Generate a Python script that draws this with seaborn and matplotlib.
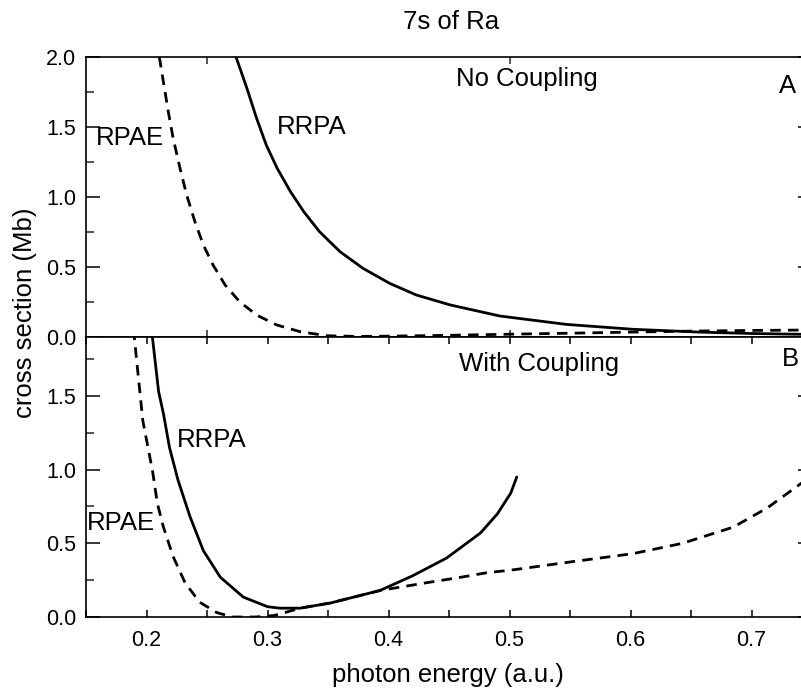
import numpy as np
import pandas as pd
import matplotlib
matplotlib.use("Agg")
import matplotlib.pyplot as plt
from matplotlib.ticker import MultipleLocator, FormatStrFormatter
import seaborn as sns

# ---------------- data ----------------
# Panel A: no coupling
a_rpae_x = [0.2106, 0.214, 0.218, 0.222, 0.2277, 0.2332, 0.240, 0.247, 0.255, 0.265,
            0.277, 0.291, 0.3076, 0.327, 0.349, 0.375, 0.40, 0.45, 0.50, 0.55,
            0.60, 0.65, 0.70, 0.75]
a_rpae_y = [2.0, 1.82, 1.61, 1.42, 1.205, 1.014, 0.824, 0.657, 0.514, 0.371,
            0.252, 0.157, 0.086, 0.038, 0.009, 0.004, 0.006, 0.012, 0.02, 0.027,
            0.035, 0.042, 0.047, 0.05]
a_rrpa_x = [0.274, 0.283, 0.291, 0.299, 0.308, 0.319, 0.330, 0.343, 0.360, 0.379,
            0.401, 0.423, 0.451, 0.492, 0.547, 0.602, 0.657, 0.70, 0.75]
a_rrpa_y = [2.0, 1.776, 1.562, 1.371, 1.205, 1.038, 0.895, 0.752, 0.609, 0.490,
            0.383, 0.30, 0.229, 0.15, 0.09, 0.055, 0.035, 0.025, 0.018]

# Panel B: with coupling
b_rpae_x = [0.189, 0.190, 0.197, 0.205, 0.209, 0.214, 0.222, 0.232, 0.244, 0.258,
            0.271, 0.29, 0.305, 0.31, 0.327, 0.352, 0.393, 0.415, 0.437, 0.46,
            0.481, 0.503, 0.547, 0.602, 0.643, 0.685, 0.713, 0.75]
b_rpae_y = [1.95, 1.89, 1.33, 0.99, 0.77, 0.61, 0.41, 0.23, 0.10, 0.03,
            0.0, 0.0, 0.01, 0.02, 0.06, 0.095, 0.18, 0.21, 0.24, 0.27,
            0.30, 0.32, 0.37, 0.43, 0.50, 0.61, 0.74, 0.96]
b_rrpa_x = [0.204, 0.205, 0.21, 0.214, 0.219, 0.226, 0.236, 0.247, 0.261, 0.280,
            0.30, 0.31, 0.327, 0.352, 0.393, 0.420, 0.448, 0.476, 0.490, 0.501, 0.506]
b_rrpa_y = [1.95, 1.89, 1.53, 1.38, 1.15, 0.93, 0.68, 0.45, 0.27, 0.135,
            0.07, 0.06, 0.06, 0.095, 0.18, 0.28, 0.40, 0.57, 0.70, 0.84, 0.95]

x_ticks_labels = [0.2, 0.3, 0.4, 0.5, 0.6, 0.7]

# ---------------- figure ----------------
sns.set_style("ticks")
plt.rcParams['font.family'] = ['Liberation Sans', 'DejaVu Sans']
plt.rcParams['axes.linewidth'] = 1.2
plt.rcParams['text.color'] = 'black'

W, H = 801, 693
fig = plt.figure(figsize=(W / 100, H / 100), dpi=100)
left = 86 / W
width = (812 - 86) / W
axA = fig.add_axes([left, 1 - 337 / H, width, (337 - 57) / H])
axB = fig.add_axes([left, 1 - 617 / H, width, (617 - 337) / H])

lw = 2.0
dash = (0, (3.8, 2.6))

sns.lineplot(x=a_rpae_x, y=a_rpae_y, ax=axA, color='black', lw=lw, linestyle=dash,
             sort=False, estimator=None)
sns.lineplot(x=a_rrpa_x, y=a_rrpa_y, ax=axA, color='black', lw=lw, sort=False, estimator=None)
sns.lineplot(x=b_rpae_x, y=b_rpae_y, ax=axB, color='black', lw=lw, linestyle=dash,
             sort=False, estimator=None)
sns.lineplot(x=b_rrpa_x, y=b_rrpa_y, ax=axB, color='black', lw=lw, sort=False, estimator=None)

for ax in (axA, axB):
    ax.set_xlim(0.15, 0.75)
    ax.set_xlabel('')
    ax.set_ylabel('')
    for s in ax.spines.values():
        s.set_color('black')
        s.set_linewidth(1.2)
    ax.yaxis.set_major_locator(MultipleLocator(0.5))
    ax.yaxis.set_minor_locator(MultipleLocator(0.25))
    ax.tick_params(axis='y', which='major', direction='in', length=10, width=1.1,
                   left=True, right=True, labelsize=15.5, pad=7, colors='black')
    ax.tick_params(axis='y', which='minor', direction='in', length=6, width=1.1,
                   left=True, right=True)
    ax.yaxis.set_major_formatter(FormatStrFormatter('%.1f'))

axA.set_ylim(0, 2.0)
axB.set_ylim(0, 1.9)

axA.xaxis.set_major_locator(MultipleLocator(0.25))
axA.tick_params(axis='x', which='major', direction='in', length=5, width=1.1,
                top=True, bottom=True, labelbottom=False)

axB.set_xticks(x_ticks_labels)
axB.xaxis.set_minor_locator(MultipleLocator(0.05))
axB.xaxis.set_major_formatter(FormatStrFormatter('%.1f'))
axB.tick_params(axis='x', which='both', direction='in', length=5, width=1.1,
                top=True, bottom=True, labelsize=15.5, pad=9, colors='black')

fs = 18.5
axA.text(0.456, 1.84, 'No Coupling', fontsize=fs, ha='left', va='center', color='black')
axA.text(0.7225, 1.79, 'A', fontsize=fs, ha='left', va='center', color='black')
axA.text(0.158, 1.42, 'RPAE', fontsize=fs, ha='left', va='center', color='black')
axA.text(0.308, 1.50, 'RRPA', fontsize=fs, ha='left', va='center', color='black')

axB.text(0.458, 1.72, 'With Coupling', fontsize=fs, ha='left', va='center', color='black')
axB.text(0.725, 1.75, 'B', fontsize=fs, ha='left', va='center', color='black')
axB.text(0.225, 1.20, 'RRPA', fontsize=fs, ha='left', va='center', color='black')
axB.text(0.151, 0.64, 'RPAE', fontsize=fs, ha='left', va='center', color='black')

fig.text(451 / W, 1 - 22 / H, '7s of Ra', fontsize=fs, ha='center', va='center', color='black')
fig.text(448 / W, 1 - 675 / H, 'photon energy (a.u.)', fontsize=fs, ha='center', va='center',
         color='black')
fig.text(25 / W, 1 - 313 / H, 'cross section (Mb)', fontsize=fs, ha='center', va='center',
         rotation=90, color='black')

fig.savefig('out.png', dpi=100)
